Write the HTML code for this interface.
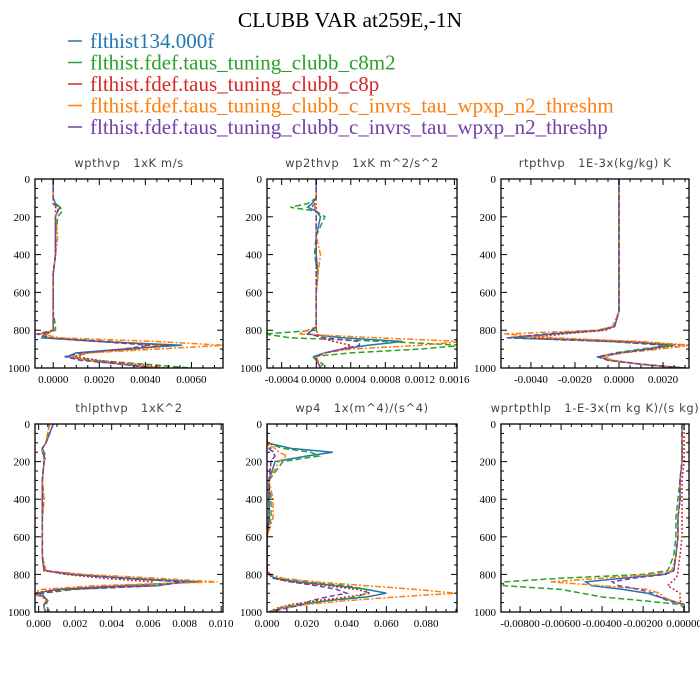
<!DOCTYPE html>
<html><head><meta charset="utf-8"><style>
body{margin:0;background:#fff;width:700px;height:700px;overflow:hidden}
svg{display:block}
.tt{font-family:"Liberation Serif",serif}
.pt{font-family:"DejaVu Sans","Liberation Sans",sans-serif;fill:#444;font-size:11.5px;white-space:pre}
.tk{font-family:"Liberation Serif",serif;font-size:11px;fill:#000}
</style></head><body>
<svg id="c" width="700" height="700" xmlns="http://www.w3.org/2000/svg">
<text class="tt" x="350" y="27" text-anchor="middle" font-size="21.5">CLUBB VAR at259E,-1N</text>
</svg>
<script>
const levels=[0,100,130,150,170,200,300,400,500,600,700,780,800,820,840,860,880,900,920,940,960,980,1000];
const seriesNames=["flthist134.000f","flthist.fdef.taus_tuning_clubb_c8m2","flthist.fdef.taus_tuning_clubb_c8p","flthist.fdef.taus_tuning_clubb_c_invrs_tau_wpxp_n2_threshm","flthist.fdef.taus_tuning_clubb_c_invrs_tau_wpxp_n2_threshp"];
// wpthvp
const wpthvpBlue=[0,0,0.0001,0.0003,0.0002,0.0001,0.0001,0.0001,0,0,0,0,0,-0.0004,-0.0005,0.002,0.0056,0.003,0.001,0.0006,0.0015,0.003,0.0045];
const wpthvpGreen=[0,0,0.0001,0.0003,0.0004,0.0002,0.0001,0.0001,0,0,0,0.0001,0.0001,-0.0003,-0.0004,0.0025,0.0048,0.0035,0.0015,0.0008,0.0018,0.004,0.006];
const wpthvpRed=[0,0,0,0.0001,0.0001,0.0001,0.0001,0.0001,0,0,0,0,0,-0.0004,-0.0002,0.002,0.005,0.0035,0.0015,0.001,0.002,0.0035,0.005];
const wpthvpOrange=[0,0,0,0.0002,0.0002,0.0001,0.0002,0.0001,0,0,0,0,0.0001,-0.0006,0.0003,0.0045,0.0074,0.0045,0.0015,0.0008,0.0015,0.003,0.0045];
const wpthvpPurple=[0,0,0,0.0002,0.0002,0.0001,0.0001,0.0001,0,0,0,0,0,-0.0007,-0.0002,0.002,0.0042,0.003,0.0012,0.0005,0.0012,0.003,0.0042];
// wp2thvp
const wp2Blue=[0,0,-0.00005,-0.0001,0,0.00005,0,0,0.00002,0,0,0,-0.00005,-0.0001,0.0003,0.001,0.0006,0.0003,0.0001,-0.00003,0,0.00003,0.00005];
const wp2Green=[0,0,-0.0001,-0.0003,0,0.0001,0,-0.00002,0.00002,0,0,0,0,-0.0006,-0.0003,0.0008,0.0017,0.0012,0.0004,-0.00005,0.00002,0.00008,0.00004];
const wp2Red=[0,0,0,0,0,0,0,0,0,0,0,0,0,0.00002,0.00005,0.0002,0.0004,0.0003,0.0001,0,0,0.00003,0.00005];
const wp2Orange=[0,0,0,-0.00002,0,0,0,0.00005,0.00002,0,0,0,-0.0001,-0.0002,0.0007,0.0017,0.0012,0.0004,0.0001,0,0.00002,0.00004,0.00005];
const wp2Purple=[0,0,-0.00002,-0.00005,0,0,0,0,0,0,0,0,-0.00005,-0.0001,0.0001,0.0005,0.0005,0.0003,0.0001,0,0,0.00003,0.00005];
// rtpthvp
const rtBlue=[0,0,0,0,0,0,0,0,0,0,0,-0.0002,-0.0008,-0.003,-0.0048,0.0002,0.0025,0.0012,0,-0.0009,-0.0004,0.001,0.0028];
const rtGreen=[0,0,0,0,0,0,0,0,0,0,0,-0.0002,-0.0009,-0.0032,-0.005,-0.0005,0.0024,0.001,-0.0002,-0.0008,-0.0003,0.001,0.003];
const rtRed=[0,0,0,0,0,0,0,0,0,0,0,-0.0002,-0.0006,-0.0025,-0.004,0.0006,0.0031,0.0015,0.0002,-0.0007,-0.0003,0.001,0.0028];
const rtOrange=[0,0,0,0,0,0,0,0,0,0,0,-0.0003,-0.001,-0.0052,-0.003,0.001,0.0033,0.0018,0.0002,-0.0008,-0.0003,0.001,0.0028];
const rtPurple=[0,0,0,0,0,0,0,0,0,0,0,-0.0002,-0.0008,-0.0033,-0.0051,-0.0002,0.002,0.0015,0,-0.001,-0.0005,0.001,0.003];
// thlpthvp
const thlBlue=[0.0008,0.0004,0.0002,0.0002,0.0003,0.0003,0.0002,0.0002,0.0002,0.0002,0.0002,0.0003,0.002,0.005,0.0088,0.0045,0.001,-0.0001,0.0003,0.0005,0.0003,0.0003,0.0004];
const thlGreen=[0.0006,0.0004,0.0002,0.0003,0.0004,0.0003,0.0002,0.0003,0.0002,0.0002,0.0002,0.0003,0.0018,0.0045,0.008,0.0065,0.002,0.0002,0.0003,0.0005,0.0004,0.0005,0.0006];
const thlRed=[0.0006,0.0004,0.0002,0.0002,0.0003,0.0003,0.0002,0.0002,0.0002,0.0002,0.0002,0.0003,0.0015,0.0035,0.0062,0.006,0.001,-0.0003,0.0002,0.0004,0.0003,0.0003,0.0004];
const thlOrange=[0.0006,0.0004,0.0002,0.0002,0.0003,0.0003,0.0002,0.0003,0.0002,0.0002,0.0002,0.0004,0.0025,0.0065,0.0098,0.003,0.0002,-0.0005,0.0002,0.0004,0.0003,0.0003,0.0004];
const thlPurple=[0.0008,0.0004,0.0002,0.0002,0.0003,0.0003,0.0002,0.0002,0.0002,0.0002,0.0002,0.0003,0.0017,0.0045,0.008,0.0065,0.0015,0.0001,0.0003,0.0005,0.0003,0.0003,0.0004];
// wp4
const wp4Blue=[0,0,0.012,0.033,0.02,0.004,0.001,0.001,0.001,0,0,0,0.001,0.004,0.015,0.035,0.05,0.06,0.05,0.03,0.018,0.008,0.001];
const wp4Green=[0,0,0.008,0.022,0.026,0.008,0.001,0.002,0.002,0,0,0,0.001,0.005,0.02,0.04,0.05,0.05,0.045,0.03,0.015,0.006,0.001];
const wp4Red=[0,0,0.002,0.003,0.004,0.002,0.001,0.001,0.001,0,0,0,0.001,0.003,0.012,0.03,0.045,0.052,0.04,0.025,0.012,0.005,0.001];
const wp4Orange=[0,0,0.004,0.006,0.01,0.006,0.001,0.003,0.003,0,0,0,0.002,0.008,0.025,0.05,0.075,0.095,0.065,0.04,0.02,0.008,0.001];
const wp4Purple=[0,0,0.001,0.003,0.004,0.002,0.001,0.001,0.001,0,0,0,0.001,0.003,0.012,0.025,0.035,0.04,0.03,0.022,0.018,0.01,0.001];
// wprtpthlp
const wprBlue=[-0.0001,-0.0001,-0.0001,-0.0001,-0.0001,-0.0001,-0.0002,-0.0002,-0.0003,-0.0003,-0.0004,-0.0005,-0.001,-0.003,-0.0048,-0.0045,-0.003,-0.0018,-0.0012,-0.0006,0,0,0];
const wprGreen=[-0.0001,-0.0001,-0.0001,-0.0001,-0.0001,-0.0001,-0.0002,-0.0003,-0.0004,-0.0004,-0.0005,-0.0008,-0.002,-0.006,-0.0088,-0.0088,-0.006,-0.005,-0.004,-0.002,-0.0002,0,0];
const wprRed=[0,0,0,0,0,0,-0.0001,-0.0001,-0.0001,-0.0001,-0.0002,-0.0003,-0.0003,-0.0004,-0.0006,-0.0008,-0.0005,-0.0002,-0.0002,-0.0002,0,0,0];
const wprOrange=[-0.0001,-0.0001,-0.0001,-0.0001,-0.0001,-0.0001,-0.0002,-0.0002,-0.0003,-0.0003,-0.0004,-0.0006,-0.0015,-0.004,-0.0065,-0.004,-0.0018,-0.0012,-0.001,-0.0006,0,0,0];
const wprPurple=[-0.0001,-0.0001,-0.0001,-0.0001,-0.0001,-0.0001,-0.0002,-0.0002,-0.0003,-0.0003,-0.0004,-0.0005,-0.0009,-0.0025,-0.0035,-0.0032,-0.0022,-0.0015,-0.0012,-0.0008,0,0,0];

const yTicks=[0,200,400,600,800,1000];
const ticks1=[0,0.002,0.004,0.006], ticks2=[-0.0004,0,0.0004,0.0008,0.0012,0.0016], ticks3=[-0.004,-0.002,0,0.002];
const ticks4=[0,0.002,0.004,0.006,0.008,0.010], ticks5=[0,0.02,0.04,0.06,0.08], ticks6=[-0.008,-0.006,-0.004,-0.002,0];

const colors=["#1f77b4","#2ca02c","#d62728","#ff7f0e","#7041a8"];
const dashes=["","6,3","2,2","6,2,2,2","5,3"];
const NS="http://www.w3.org/2000/svg";
const svg=document.getElementById('c');
function mk(t,a,p){const e=document.createElementNS(NS,t);for(const k in a)e.setAttribute(k,a[k]);(p||svg).appendChild(e);return e;}

// legend
seriesNames.forEach((n,i)=>{
  const y=42+i*21.5;
  const ln=mk('line',{x1:68,x2:82,y1:y-1,y2:y-1,stroke:colors[i],'stroke-width':1.5});
  
  
  const t=mk('text',{x:90,y:y+6,fill:colors[i],'font-size':21,class:'tt'});
  t.textContent=n;
  
  
});

const panels=[
 {name:'wpthvp',title:'wpthvp   1xK m/s',x0:35,x1:223,y0:179,y1:368,xmin:-0.00079,xmax:0.00737,ticks:ticks1,dec:4,series:[wpthvpBlue,wpthvpGreen,wpthvpRed,wpthvpOrange,wpthvpPurple]},
 {name:'wp2thvp',title:'wp2thvp   1xK m^2/s^2',x0:267,x1:457,y0:179,y1:368,xmin:-0.00057,xmax:0.00163,ticks:ticks2,dec:4,series:[wp2Blue,wp2Green,wp2Red,wp2Orange,wp2Purple]},
 {name:'rtpthvp',title:'rtpthvp   1E-3x(kg/kg) K',x0:501,x1:689,y0:179,y1:368,xmin:-0.00536,xmax:0.00318,ticks:ticks3,dec:4,series:[rtBlue,rtGreen,rtRed,rtOrange,rtPurple]},
 {name:'thlpthvp',title:'thlpthvp   1xK^2',x0:35,x1:223,y0:424,y1:612,xmin:-0.0002,xmax:0.0101,ticks:ticks4,dec:3,series:[thlBlue,thlGreen,thlRed,thlOrange,thlPurple]},
 {name:'wp4',title:'wp4   1x(m^4)/(s^4)',x0:267,x1:457,y0:424,y1:612,xmin:0,xmax:0.0955,ticks:ticks5,dec:3,series:[wp4Blue,wp4Green,wp4Red,wp4Orange,wp4Purple]},
 {name:'wprtpthlp',title:'wprtpthlp   1-E-3x(m kg K)/(s kg)',x0:501,x1:689,y0:424,y1:612,xmin:-0.00893,xmax:0.00024,ticks:ticks6,dec:5,series:[wprBlue,wprGreen,wprRed,wprOrange,wprPurple]},
];

panels.forEach(p=>{
  const g=mk('g',{});
  
  
  const xs=v=>p.x0+(v-p.xmin)/(p.xmax-p.xmin)*(p.x1-p.x0);
  const ys=v=>p.y0+v/1000*(p.y1-p.y0);
  const t=mk('text',{x:(p.x0+p.x1)/2,y:p.y0-12,'text-anchor':'middle',class:'pt','xml:space':'preserve','letter-spacing':'0.6'},g);
  t.textContent=p.title;
  
  
  const clip='clip-'+p.name;
  const cp=mk('clipPath',{id:clip},g);
  mk('rect',{x:p.x0,y:p.y0,width:p.x1-p.x0,height:p.y1-p.y0},cp);
  const lg=mk('g',{'clip-path':'url(#'+clip+')'},g);
  p.series.forEach((s,i)=>{
    const d=s.map((v,k)=>(k?'L':'M')+xs(v).toFixed(1)+','+ys(levels[k]).toFixed(1)).join('');
    const path=mk('path',{d:d,fill:'none',stroke:colors[i],'stroke-width':1.5,'stroke-dasharray':dashes[i]},lg);
    
    
  });
  const fr=mk('rect',{x:p.x0,y:p.y0,width:p.x1-p.x0,height:p.y1-p.y0,fill:'none',stroke:'#000','stroke-width':1.3},g);
  
  
  for(let v=0;v<=1000;v+=50){
    const L=v%200===0?6:3, y=ys(v);
    mk('line',{x1:p.x0,x2:p.x0+L,y1:y,y2:y,stroke:'#000'},g);
    mk('line',{x1:p.x1,x2:p.x1-L,y1:y,y2:y,stroke:'#000'},g);
  }
  yTicks.forEach(v=>{
    const tl=mk('text',{x:p.x0-5,y:ys(v)+4,'text-anchor':'end',class:'tk'},g);
    tl.textContent=v;
    
    
  });
  const step=p.ticks[1]-p.ticks[0], minor=step/4;
  for(let v=p.ticks[0]-step*3;v<=p.xmax+1e-12;v+=minor){
    if(v<p.xmin-1e-12)continue;
    const k=Math.round((v-p.ticks[0])/minor);
    const L=k%4===0?6:3, x=xs(v);
    mk('line',{x1:x,x2:x,y1:p.y1,y2:p.y1-L,stroke:'#000'},g);
    mk('line',{x1:x,x2:x,y1:p.y0,y2:p.y0+L,stroke:'#000'},g);
  }
  p.ticks.forEach(v=>{
    const tl=mk('text',{x:xs(v),y:p.y1+15,'text-anchor':'middle',class:'tk'},g);
    tl.textContent=(Math.abs(v)<1e-12?0:v).toFixed(p.dec);
    
    
  });
});
</script>
</body></html>
